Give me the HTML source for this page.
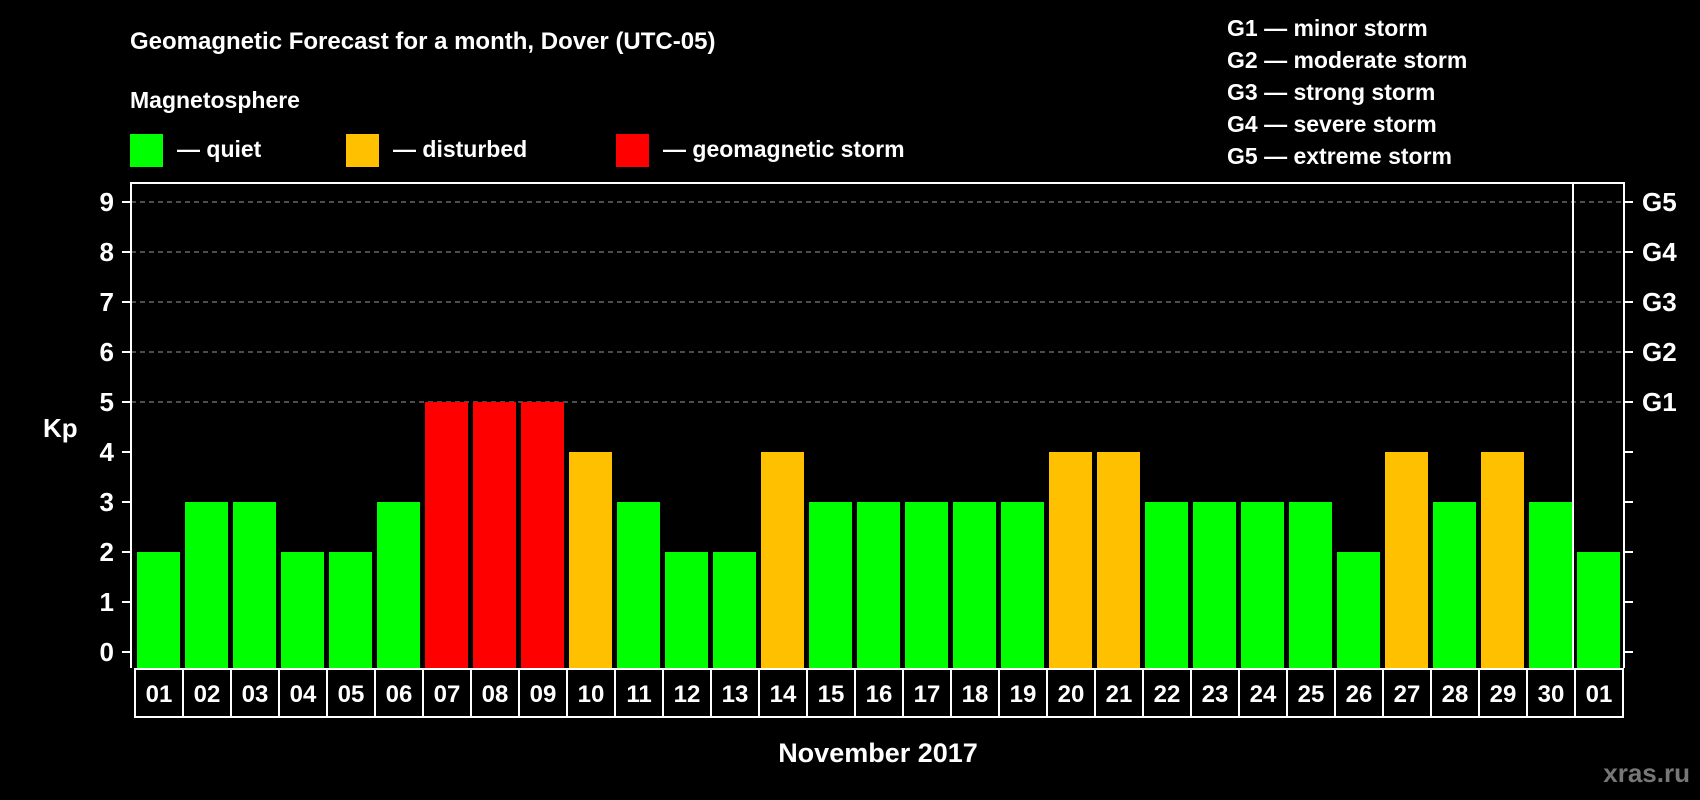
<!DOCTYPE html>
<html><head><meta charset="utf-8"><style>
body{margin:0;background:#000;width:1700px;height:800px;overflow:hidden}
svg{display:block;font-family:"Liberation Sans",Arial,sans-serif;font-weight:bold}
</style></head><body>
<svg id="chart" width="1700" height="800" viewBox="0 0 1700 800">
<rect width="1700" height="800" fill="#000"/>
<text x="130" y="49" fill="#fff" font-size="24">Geomagnetic Forecast for a month, Dover (UTC-05)</text>
<text x="130" y="108" fill="#fff" font-size="23">Magnetosphere</text>
<g><rect x="130" y="134" width="33" height="33" fill="#00ff00"/><text x="177" y="157" fill="#fff" font-size="23">— quiet</text></g>
<g><rect x="346" y="134" width="33" height="33" fill="#ffc000"/><text x="393" y="157" fill="#fff" font-size="23">— disturbed</text></g>
<g><rect x="616" y="134" width="33" height="33" fill="#ff0000"/><text x="663" y="157" fill="#fff" font-size="23">— geomagnetic storm</text></g>
<g fill="#fff" font-size="23">
<text x="1227" y="36">G1 — minor storm</text>
<text x="1227" y="68">G2 — moderate storm</text>
<text x="1227" y="100">G3 — strong storm</text>
<text x="1227" y="132">G4 — severe storm</text>
<text x="1227" y="164">G5 — extreme storm</text>
</g>
<text x="43" y="437" fill="#fff" font-size="26">Kp</text>
<text x="878" y="762" fill="#fff" font-size="27" text-anchor="middle">November 2017</text>
<text x="1690" y="782" fill="#777" font-size="26" text-anchor="end">xras.ru</text>
<g id="grid"></g><g id="bars"></g><g id="axes"></g>
</svg>
<script>
const days=["01","02","03","04","05","06","07","08","09","10","11","12","13","14","15","16","17","18","19","20","21","22","23","24","25","26","27","28","29","30","01"];
const kp=[2,3,3,2,2,3,5,5,5,4,3,2,2,4,3,3,3,3,3,4,4,3,3,3,3,2,4,3,4,3,2];
const yTicks=[0,1,2,3,4,5,6,7,8,9];
const gLabels=["G1","G2","G3","G4","G5"];
const NS="http://www.w3.org/2000/svg";
const L=131,R=1624,T=183,B=668;
const y=v=>652-v*50;
const x=i=>137+i*48;
const BW=43;
function mk(tag,attrs,parent,txt){const e=document.createElementNS(NS,tag);for(const k in attrs)e.setAttribute(k,attrs[k]);if(txt!==undefined)e.textContent=txt;parent.appendChild(e);return e;}
const grid=document.getElementById('grid'),bars=document.getElementById('bars'),axes=document.getElementById('axes');
yTicks.forEach(v=>{
  if(v>=5){const g=mk('line',{x1:L,x2:R,y1:y(v),y2:y(v),stroke:'#999','stroke-width':1,'stroke-dasharray':'5,4'},grid);
  
  }
  const t=mk('line',{x1:L-9,x2:L,y1:y(v),y2:y(v),stroke:'#fff','stroke-width':2},axes);
  
  
  const t2=mk('line',{x1:R,x2:R+9,y1:y(v),y2:y(v),stroke:'#fff','stroke-width':2},axes);
  
  
  const lb=mk('text',{x:114,y:y(v)+9,fill:'#fff','font-size':26,'text-anchor':'end'},axes,v);
  
  
});
gLabels.forEach((g,i)=>{
  const lb=mk('text',{x:1642,y:y(5+i)+9,fill:'#fff','font-size':26},axes,g);
  
  
});
kp.forEach((v,i)=>{
  const c=v>=5?'#ff0000':(v>=4?'#ffc000':'#00ff00');
  const r=mk('rect',{x:x(i),y:y(v),width:BW,height:B-y(v),fill:c},bars);
  
  
});
days.forEach((d,i)=>{
  const cx=x(i)-2;
  const cell=mk('rect',{x:cx,y:669,width:48,height:48,fill:'none',stroke:'#fff','stroke-width':2},axes);
  
  
  const t=mk('text',{x:cx+24,y:702,fill:'#fff','font-size':24,'text-anchor':'middle'},axes,d);
  
  
});
const frame=mk('path',{d:`M${L},${B} L${L},${T} L${R},${T} L${R},${B}`,fill:'none',stroke:'#fff','stroke-width':2},axes);


const sep=mk('line',{x1:x(30)-4,x2:x(30)-4,y1:T,y2:B,stroke:'#fff','stroke-width':2},axes);


</script>
</body></html>
